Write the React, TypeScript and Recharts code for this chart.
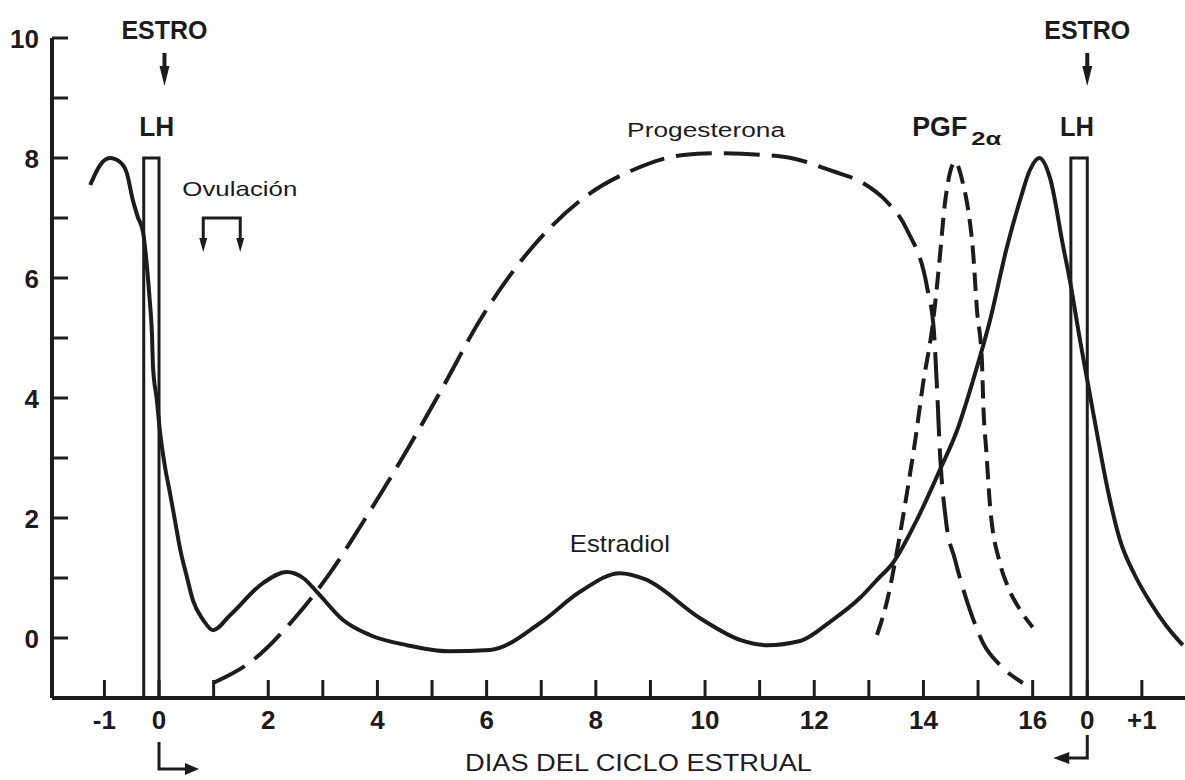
import { LineChart, Line, XAxis, YAxis, ReferenceArea, ReferenceDot } from 'recharts';

const INK = '#1c1c1c';
const FONT = '"Liberation Sans", Arial, sans-serif';

// days of the estrous cycle (x) and relative hormone level (y)
const xTicks = [-1, 0, 1, 2, 3, 4, 5, 6, 7, 8, 9, 10, 11, 12, 13, 14, 15, 16, 17, 18];
const xTickText = ['-1', '0', '', '2', '', '4', '', '6', '', '8', '', '10', '', '12', '', '14', '', '16', '0', '+1'];
const yTicks = [0, 1, 2, 3, 4, 5, 6, 7, 8, 9, 10];
const yTickText = ['0', '', '2', '', '4', '', '6', '', '8', '', '10'];

const estradiol = [
  { d: -1.26, v: 7.55 }, { d: -1.08, v: 7.88 }, { d: -0.9, v: 8.0 }, { d: -0.71, v: 7.93 },
  { d: -0.59, v: 7.75 }, { d: -0.48, v: 7.3 }, { d: -0.39, v: 7.02 }, { d: -0.29, v: 6.75 },
  { d: -0.22, v: 6.18 }, { d: -0.17, v: 5.63 }, { d: -0.13, v: 5.08 }, { d: -0.11, v: 4.52 },
  { d: -0.04, v: 3.97 }, { d: 0.02, v: 3.42 }, { d: 0.11, v: 2.85 }, { d: 0.2, v: 2.42 },
  { d: 0.29, v: 1.97 }, { d: 0.39, v: 1.47 }, { d: 0.51, v: 1.02 }, { d: 0.62, v: 0.63 },
  { d: 0.81, v: 0.3 }, { d: 0.99, v: 0.13 }, { d: 1.3, v: 0.38 }, { d: 1.91, v: 0.92 },
  { d: 2.34, v: 1.1 }, { d: 2.64, v: 1.0 }, { d: 2.89, v: 0.77 }, { d: 3.37, v: 0.3 },
  { d: 3.86, v: 0.05 }, { d: 4.54, v: -0.12 }, { d: 5.3, v: -0.22 }, { d: 6.06, v: -0.2 },
  { d: 6.98, v: 0.25 }, { d: 7.71, v: 0.77 }, { d: 8.44, v: 1.08 }, { d: 8.9, v: 0.98 },
  { d: 9.91, v: 0.33 }, { d: 10.64, v: -0.03 }, { d: 11.14, v: -0.12 }, { d: 11.74, v: -0.05 },
  { d: 12.29, v: 0.27 }, { d: 12.84, v: 0.67 }, { d: 13.15, v: 0.97 }, { d: 13.44, v: 1.25 },
  { d: 13.88, v: 1.97 }, { d: 14.3, v: 2.8 }, { d: 14.62, v: 3.47 }, { d: 14.91, v: 4.3 },
  { d: 15.22, v: 5.3 }, { d: 15.53, v: 6.52 }, { d: 15.77, v: 7.3 }, { d: 15.95, v: 7.8 },
  { d: 16.12, v: 8.0 }, { d: 16.32, v: 7.66 }, { d: 16.56, v: 6.52 }, { d: 16.68, v: 5.97 },
  { d: 16.87, v: 4.95 }, { d: 17.01, v: 4.25 }, { d: 17.18, v: 3.4 }, { d: 17.38, v: 2.45 },
  { d: 17.6, v: 1.63 }, { d: 17.87, v: 1.05 }, { d: 18.15, v: 0.6 }, { d: 18.45, v: 0.2 },
  { d: 18.75, v: -0.12 },
];

const progesterona = [
  { d: 0.99, v: -0.75 }, { d: 1.72, v: -0.37 }, { d: 2.53, v: 0.38 }, { d: 3.13, v: 1.08 },
  { d: 3.68, v: 1.85 }, { d: 4.41, v: 2.93 }, { d: 5.15, v: 4.1 }, { d: 5.88, v: 5.3 },
  { d: 6.67, v: 6.33 }, { d: 7.77, v: 7.33 }, { d: 8.68, v: 7.8 }, { d: 9.6, v: 8.05 },
  { d: 10.27, v: 8.08 }, { d: 11.43, v: 8.02 }, { d: 12.34, v: 7.78 }, { d: 12.9, v: 7.58 },
  { d: 13.3, v: 7.3 }, { d: 13.7, v: 6.8 }, { d: 14.07, v: 5.83 }, { d: 14.19, v: 5.13 },
  { d: 14.25, v: 4.13 }, { d: 14.3, v: 3.13 }, { d: 14.41, v: 1.97 }, { d: 14.58, v: 1.3 },
  { d: 14.85, v: 0.47 }, { d: 15.09, v: -0.08 }, { d: 15.4, v: -0.45 }, { d: 15.82, v: -0.75 },
];

const pgf = [
  { d: 13.15, v: 0.05 }, { d: 13.35, v: 0.68 }, { d: 13.53, v: 1.52 }, { d: 13.7, v: 2.43 },
  { d: 13.85, v: 3.3 }, { d: 13.99, v: 4.22 }, { d: 14.18, v: 5.3 }, { d: 14.3, v: 6.35 },
  { d: 14.39, v: 7.22 }, { d: 14.58, v: 7.93 }, { d: 14.73, v: 7.55 }, { d: 14.82, v: 7.13 },
  { d: 14.91, v: 6.42 }, { d: 14.98, v: 5.47 }, { d: 15.07, v: 4.63 }, { d: 15.1, v: 3.8 },
  { d: 15.15, v: 3.13 }, { d: 15.22, v: 2.2 }, { d: 15.4, v: 1.25 }, { d: 15.55, v: 0.85 },
  { d: 15.77, v: 0.47 }, { d: 16.0, v: 0.18 },
];

// LH pulses drawn as narrow open bars
const lhBars = [
  { from: -0.28, to: 0, top: 8 },
  { from: 16.7, to: 17, top: 8 },
];

const estroDays = [0.1, 17];

const labels = [
  { d: -0.04, v: 8.52, text: 'LH', size: 27, bold: true, width: 35 },
  { d: 16.81, v: 8.52, text: 'LH', size: 27, bold: true, width: 34 },
  { d: 1.48, v: 7.5, text: 'Ovulación', size: 21, bold: false, width: 115 },
  { d: 10.02, v: 8.47, text: 'Progesterona', size: 20, bold: false, width: 158 },
  { d: 8.44, v: 1.58, text: 'Estradiol', size: 24, bold: false, width: 100 },
];

const DayTick = (props: any) => {
  const { x, y, payload } = props;
  const i = xTicks.indexOf(payload.value);
  const text = xTickText[i];
  return (
    <g>
      <line x1={x} y1={y} x2={x} y2={y - 18} stroke={INK} strokeWidth={3} />
      {text && (
        <text x={x} y={y + 22} textAnchor="middle" dominantBaseline="central" fontFamily={FONT} fontSize={26} fontWeight={700} fill={INK}>
          {text}
        </text>
      )}
      {payload.value === 0 && (
        <g>
          <path d={`M${x},${y + 44} V${y + 71} H${x + 28}`} stroke={INK} strokeWidth={3} fill="none" />
          <path d={`M${x + 26},${y + 65} L${x + 40},${y + 71} L${x + 26},${y + 77} Z`} fill={INK} />
        </g>
      )}
      {payload.value === 17 && (
        <g>
          <path d={`M${x},${y + 37} V${y + 60} H${x - 20}`} stroke={INK} strokeWidth={3} fill="none" />
          <path d={`M${x - 18},${y + 54} L${x - 34},${y + 60} L${x - 18},${y + 66} Z`} fill={INK} />
        </g>
      )}
    </g>
  );
};

const LevelTick = (props: any) => {
  const { x, y, payload } = props;
  const text = yTickText[yTicks.indexOf(payload.value)];
  return (
    <g>
      <line x1={x} y1={y} x2={x + 16} y2={y} stroke={INK} strokeWidth={3} />
      {text && (
        <text x={x - 13} y={y + 1} textAnchor="end" dominantBaseline="central" fontFamily={FONT} fontSize={26} fontWeight={700} fill={INK}>
          {text}
        </text>
      )}
    </g>
  );
};

const EstroMark = ({ cx, cy }: any) => (
  <g>
    <text x={cx} y={cy - 8} textAnchor="middle" dominantBaseline="central" fontFamily={FONT} fontSize={26} fontWeight={700} fill={INK} textLength={86} lengthAdjust="spacingAndGlyphs">
      ESTRO
    </text>
    <line x1={cx} y1={cy + 15} x2={cx} y2={cy + 34} stroke={INK} strokeWidth={4} />
    <path d={`M${cx - 5},${cy + 28} L${cx + 5},${cy + 28} L${cx},${cy + 48} Z`} fill={INK} />
  </g>
);

const OvulationBracket = ({ cx, cy }: any) => (
  <g>
    <path d={`M${cx},${cy + 24} V${cy} H${cx + 37} V${cy + 24}`} stroke={INK} strokeWidth={3} fill="none" />
    <path d={`M${cx - 4},${cy + 20} L${cx + 4},${cy + 20} L${cx},${cy + 34} Z`} fill={INK} />
    <path d={`M${cx + 33},${cy + 20} L${cx + 41},${cy + 20} L${cx + 37},${cy + 34} Z`} fill={INK} />
  </g>
);

const PgfLabel = ({ cx, cy }: any) => (
  <g fill={INK} fontFamily={FONT} fontWeight={700}>
    <text x={cx - 27} y={cy} dominantBaseline="central" fontSize={27} textLength={55} lengthAdjust="spacingAndGlyphs">
      PGF
    </text>
    <text x={cx + 32} y={cy + 12} dominantBaseline="central" fontSize={18} textLength={30} lengthAdjust="spacingAndGlyphs">
      2α
    </text>
  </g>
);

const makeText = (l: (typeof labels)[number]) => ({ cx, cy }: any) => (
  <text x={cx} y={cy} textAnchor="middle" dominantBaseline="central" fontFamily={FONT} fontSize={l.size} fontWeight={l.bold ? 700 : 500} fill={INK} textLength={l.width} lengthAdjust="spacingAndGlyphs">
    {l.text}
  </text>
);

const AxisTitle = ({ viewBox }: any) => (
  <text x={viewBox.x + viewBox.width / 2 + 20} y={viewBox.y + 65} textAnchor="middle" dominantBaseline="central" fontFamily={FONT} fontSize={23} fontWeight={500} fill={INK} textLength={347} lengthAdjust="spacingAndGlyphs">
    DIAS DEL CICLO ESTRUAL
  </text>
);

export default function App() {
  return (
    <div style={{ width: 1185, height: 780, background: '#fff' }}>
      <style>{'body{margin:0;background:#fff}'}</style>
      <LineChart width={1185} height={780} margin={{ top: 38, right: 0, bottom: 81, left: 51 }}>
        <XAxis
          type="number"
          dataKey="d"
          domain={[-1.96, 18.79]}
          ticks={xTicks}
          interval={0}
          allowDataOverflow
          height={1}
          tickSize={0}
          tickMargin={0}
          tickLine={false}
          tick={(p: any) => <DayTick {...p} />}
          axisLine={{ stroke: INK, strokeWidth: 4 }}
          label={<AxisTitle />}
        />
        <YAxis
          type="number"
          domain={[-1, 10]}
          ticks={yTicks}
          interval={0}
          allowDataOverflow
          width={1}
          tickSize={0}
          tickMargin={0}
          tickLine={false}
          tick={(p: any) => <LevelTick {...p} />}
          axisLine={{ stroke: INK, strokeWidth: 4 }}
        />
        {lhBars.map((b, i) => (
          <ReferenceArea key={i} x1={b.from} x2={b.to} y1={-1} y2={b.top} fill="none" fillOpacity={0} stroke={INK} strokeWidth={3} ifOverflow="visible" />
        ))}
        <Line data={estradiol} dataKey="v" type="monotone" stroke={INK} strokeWidth={4} dot={false} isAnimationActive={false} />
        <Line data={progesterona} dataKey="v" type="monotone" stroke={INK} strokeWidth={4} strokeDasharray="36 12" dot={false} isAnimationActive={false} />
        <Line data={pgf} dataKey="v" type="monotone" stroke={INK} strokeWidth={4} strokeDasharray="18 9" dot={false} isAnimationActive={false} />
        {estroDays.map((d) => (
          <ReferenceDot key={`estro-${d}`} x={d} y={10} r={0} ifOverflow="visible" shape={(p: any) => <EstroMark {...p} />} />
        ))}
        <ReferenceDot x={0.81} y={7.0} r={0} shape={(p: any) => <OvulationBracket {...p} />} />
        <ReferenceDot x={14.29} y={8.52} r={0} shape={(p: any) => <PgfLabel {...p} />} />
        {labels.map((l, i) => (
          <ReferenceDot key={`lbl-${i}`} x={l.d} y={l.v} r={0} shape={makeText(l)} />
        ))}
      </LineChart>
    </div>
  );
}
